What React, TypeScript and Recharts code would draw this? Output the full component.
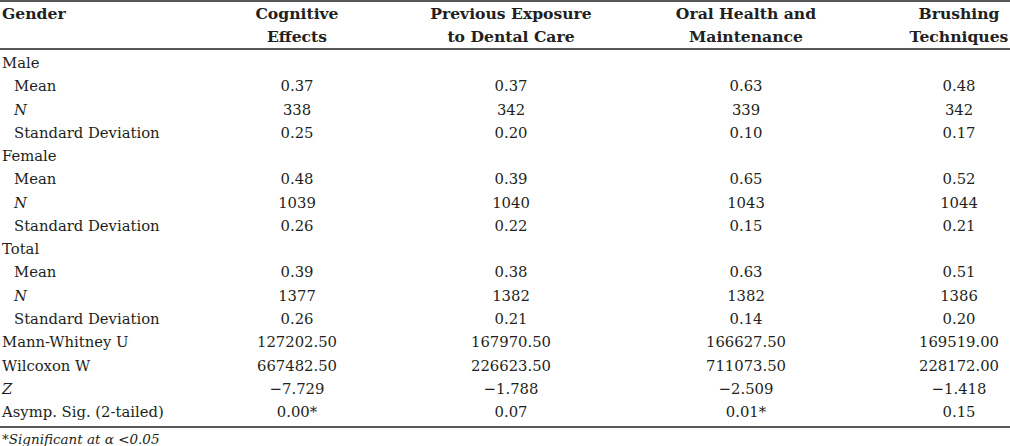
import { ScatterChart, Scatter, XAxis, YAxis, ReferenceLine } from 'recharts';

// table content
const headerLabel = 'Gender';
const columns = [
  ['Cognitive', 'Effects'],
  ['Previous Exposure', 'to Dental Care'],
  ['Oral Health and', 'Maintenance'],
  ['Brushing', 'Techniques'],
];

const rowLabels = [
  'Male', 'Mean', 'N', 'Standard Deviation',
  'Female', 'Mean', 'N', 'Standard Deviation',
  'Total', 'Mean', 'N', 'Standard Deviation',
  'Mann-Whitney U', 'Wilcoxon W', 'Z', 'Asymp. Sig. (2-tailed)',
];
const indented = [false, true, true, true, false, true, true, true, false, true, true, true, false, false, false, false];
const italicLabels = ['N', 'Z'];

const cognitive = ['', '0.37', '338', '0.25', '', '0.48', '1039', '0.26', '', '0.39', '1377', '0.26', '127202.50', '667482.50', '\u22127.729', '0.00*'];
const previousExposure = ['', '0.37', '342', '0.20', '', '0.39', '1040', '0.22', '', '0.38', '1382', '0.21', '167970.50', '226623.50', '\u22121.788', '0.07'];
const oralHealth = ['', '0.63', '339', '0.10', '', '0.65', '1043', '0.15', '', '0.63', '1382', '0.14', '166627.50', '711073.50', '\u22122.509', '0.01*'];
const brushing = ['', '0.48', '342', '0.17', '', '0.52', '1044', '0.21', '', '0.51', '1386', '0.20', '169519.00', '228172.00', '\u22121.418', '0.15'];

const footnote = '*Significant at \u03b1 <0.05';

// layout
const W = 1010;
const H = 446;
const FONT = '"DejaVu Serif", serif';
const INK = '#231f20';
const colX = [297, 511, 746, 959];
const firstRowY = 68;
const rowStep = 23.27;
const headY = [19, 42];

const valueCols = [cognitive, previousExposure, oralHealth, brushing];

const headerPts = [
  { x: 2, y: headY[0], text: headerLabel, anchor: 'start' },
  ...columns.flatMap((lines, c) =>
    lines.map((t, l) => ({ x: colX[c], y: headY[l], text: t, anchor: 'middle' }))
  ),
];

const labelPts = rowLabels.map((t, i) => ({
  x: indented[i] ? 14 : 2,
  y: firstRowY + i * rowStep,
  text: t,
  italic: italicLabels.includes(t),
}));

const valuePts = valueCols.flatMap((vals, c) =>
  vals
    .map((t, i) => ({ x: colX[c], y: firstRowY + i * rowStep, text: t }))
    .filter((p) => p.text !== '')
);

const notePts = [{ x: 2, y: 444, text: footnote }];

const makeText = (opts: { anchor?: string; weight?: number; size: number; italic?: boolean }) =>
  (props: any) => {
    const p = props.payload;
    return (
      <text
        x={props.cx}
        y={props.cy}
        textAnchor={p.anchor || opts.anchor || 'start'}
        fontFamily={FONT}
        fontSize={opts.size}
        fontWeight={opts.weight || 400}
        fontStyle={opts.italic || p.italic ? 'italic' : 'normal'}
        fill={INK}
      >
        {p.text}
      </text>
    );
  };

const App = () => {
  return (
    <div style={{ position: 'absolute', left: 0, top: 0, width: W, height: H, background: '#fff' }}>
      <ScatterChart width={W} height={H} margin={{ top: 0, right: 0, bottom: 0, left: 0 }}>
        <XAxis type="number" dataKey="x" domain={[0, W]} hide />
        <YAxis type="number" dataKey="y" domain={[0, H]} reversed hide />

        <ReferenceLine y={1} stroke={INK} strokeWidth={1.5} />
        <ReferenceLine y={49} stroke={INK} strokeWidth={1.5} />
        <ReferenceLine y={427} stroke={INK} strokeWidth={1.5} />

        <Scatter data={headerPts} isAnimationActive={false} shape={makeText({ size: 15.6, weight: 700 })} />
        <Scatter data={labelPts} isAnimationActive={false} shape={makeText({ size: 14.8 })} />
        <Scatter data={valuePts} isAnimationActive={false} shape={makeText({ size: 14.8, anchor: 'middle' })} />
        <Scatter data={notePts} isAnimationActive={false} shape={makeText({ size: 13.5, italic: true })} />
      </ScatterChart>
    </div>
  );
};

export default App;
